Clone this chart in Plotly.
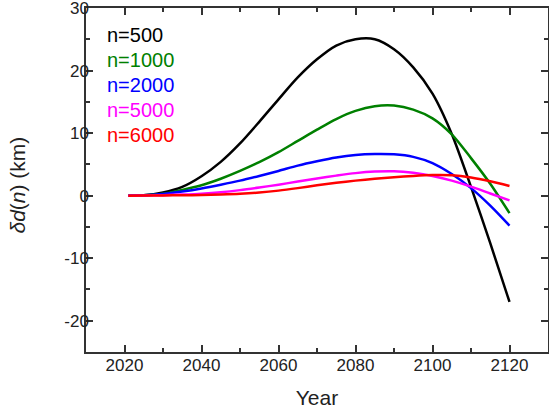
import plotly.graph_objects as go

years = [2021, 2025, 2030, 2035, 2040, 2045, 2050, 2055, 2060, 2065, 2070,
         2075, 2080, 2085, 2090, 2095, 2100, 2105, 2110, 2115, 2120]

n500 = [0, 0.05, 0.5, 1.4, 3.1, 5.4, 8.35, 11.8, 15.4, 18.9, 21.8,
        24.0, 25.0, 25.0, 23.4, 20.5, 16.3, 9.85, 1.4, -7.6, -17.0]
n1000 = [0, 0.05, 0.3, 0.9, 1.65, 2.7, 3.95, 5.35, 6.95, 8.75, 10.55,
         12.25, 13.55, 14.3, 14.4, 13.75, 12.35, 9.8, 6.0, 1.9, -2.8]
n2000 = [0, 0.05, 0.25, 0.65, 1.15, 1.75, 2.4, 3.15, 3.95, 4.8, 5.5,
         6.1, 6.5, 6.65, 6.6, 6.2, 5.2, 3.45, 1.2, -1.6, -4.8]
n5000 = [0, 0.02, 0.08, 0.18, 0.32, 0.55, 0.88, 1.3, 1.75, 2.25, 2.75,
         3.2, 3.6, 3.85, 3.9, 3.65, 3.15, 2.4, 1.45, 0.35, -0.75]
n6000 = [0, 0.01, 0.03, 0.06, 0.1, 0.18, 0.3, 0.5, 0.8, 1.2, 1.65,
         2.05, 2.4, 2.7, 2.95, 3.15, 3.28, 3.25, 2.9, 2.3, 1.55]

names = ["n=500", "n=1000", "n=2000", "n=5000", "n=6000"]
colors = ["#000000", "#008000", "#0000FF", "#FF00FF", "#FF0000"]
series = [n500, n1000, n2000, n5000, n6000]

y_ticks = [-20, -10, 0, 10, 20, 30]
y_ticktext = ["-20", "-10", "0", "10", "20", "30"]
x_ticks = [2020, 2040, 2060, 2080, 2100, 2120]

L, T, B, R = 86, 8, 67, 1
W, H = 549, 419
PW, PH = W - L - R, H - T - B

fig = go.Figure()
for nm, c, s in zip(names, colors, series):
    fig.add_trace(go.Scatter(x=years, y=s, mode="lines", name=nm,
                             line=dict(color=c, width=2.5, shape="spline", smoothing=0.8)))

for i, (nm, c) in enumerate(zip(names, colors)):
    fig.add_annotation(text=nm, xref="paper", yref="paper",
                       x=(105 - L) / PW, y=1 - (35 + 25 * i - T) / PH,
                       xanchor="left", yanchor="middle", showarrow=False,
                       font=dict(family="Liberation Sans, Arial", size=20, color=c))

# y-axis title placed as annotation
fig.add_annotation(text="<i>δd</i>(<i>n</i>) (km)", xref="paper", yref="paper",
                   x=(17 - L) / PW, y=1 - (185.5 - T) / PH, textangle=-90,
                   xanchor="center", yanchor="middle", showarrow=False,
                   font=dict(family="Liberation Sans, Arial", size=21, color="#222222"))

axis_common = dict(
    showgrid=False, zeroline=False, showline=True, linecolor="#333333",
    linewidth=1.5, mirror="ticks", ticks="inside", ticklen=7, tickwidth=1.5,
    tickcolor="#333333", automargin=False, ticklabeloverflow="allow",
    tickfont=dict(family="Liberation Sans, Arial", size=17, color="#222222"),
)

fig.update_xaxes(range=[2010, 2130], tickvals=x_ticks, ticklabelstandoff=-3,
                 minor=dict(ticks="inside", dtick=10, tick0=2010, ticklen=4,
                            tickwidth=1.5, tickcolor="#333333"),
                 title=dict(text="Year", standoff=16,
                            font=dict(family="Liberation Sans, Arial", size=21, color="#222222")),
                 **axis_common)
fig.update_yaxes(range=[-25, 30], tickvals=y_ticks, ticktext=y_ticktext,
                 ticklabelstandoff=-8,
                 minor=dict(ticks="inside", dtick=5, ticklen=4,
                            tickwidth=1.5, tickcolor="#333333"),
                 **axis_common)

fig.update_layout(width=W, height=H, showlegend=False,
                  margin=dict(l=L, r=R, t=T, b=B),
                  plot_bgcolor="white", paper_bgcolor="white")

fig.write_html("out.html", config={"displayModeBar": False},
               post_script="document.body.style.margin='0';")
